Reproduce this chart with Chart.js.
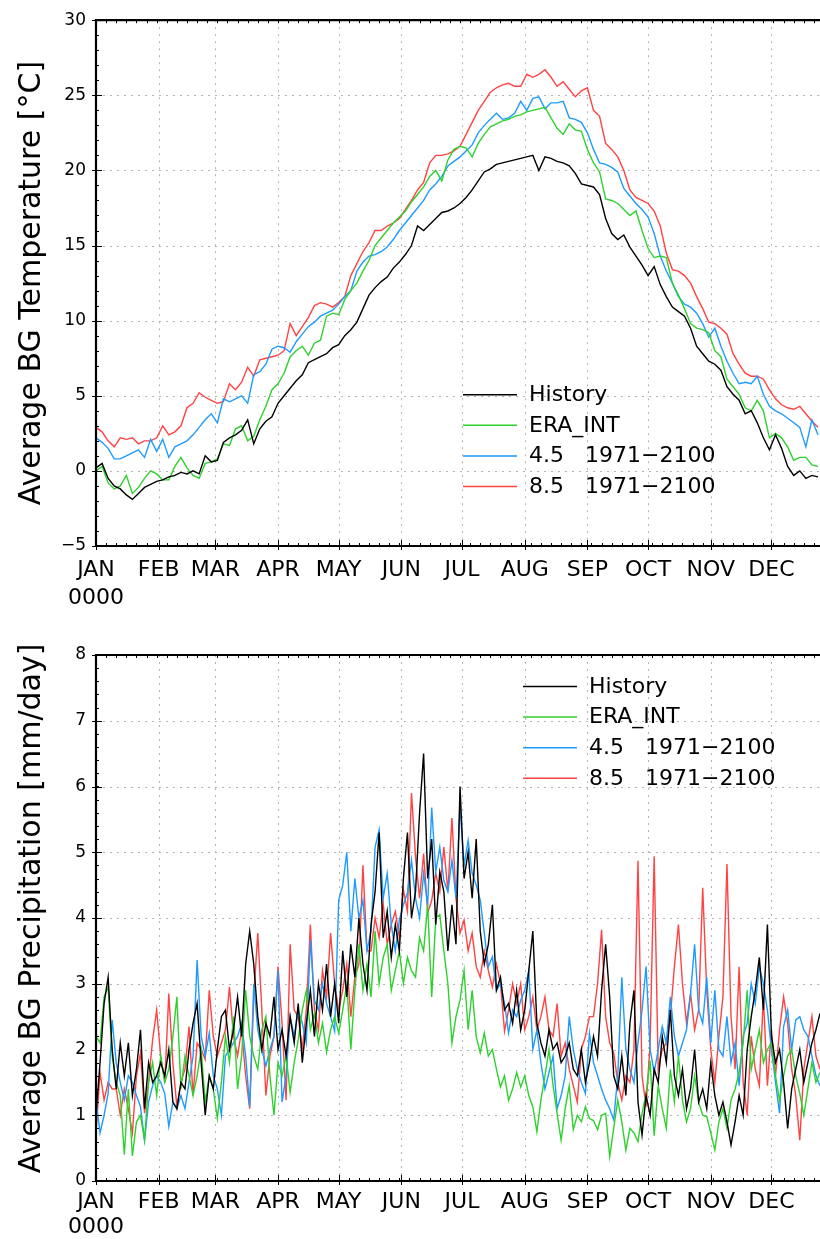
<!DOCTYPE html>
<html><head><meta charset="utf-8">
<script src="https://cdn.jsdelivr.net/npm/chart.js@4.4.1/dist/chart.umd.min.js"></script>
<style>
html,body{margin:0;padding:0;background:#fff;width:820px;height:1239px;overflow:hidden}
.c{position:absolute;left:0}
</style></head><body>
<div class="c" style="top:0"><canvas id="t" width="820" height="615"></canvas></div>
<div class="c" style="top:615px"><canvas id="p" width="820" height="624"></canvas></div>
<script>
// ---------- categories / ticks ----------
const monthLabels = ['JAN','FEB','MAR','APR','MAY','JUN','JUL','AUG','SEP','OCT','NOV','DEC'];
const monthStartDays = [0,31,59,90,120,151,181,212,243,273,304,334];
const yearLabel = '0000';
const seriesNames = ['History','ERA_INT','4.5   1971\u22122100','8.5   1971\u22122100'];
const seriesColors = ['#000000','#2ed12e','#1e9bff','#ff4343'];
const tempTicks = [-5,0,5,10,15,20,25,30];
const precTicks = [0,1,2,3,4,5,6,7,8];

// ---------- temperature (every 3rd day of year) ----------
const tempDays = [0,3,6,9,12,15,18,21,24,27,30,33,36,39,42,45,48,51,54,57,60,63,66,69,72,75,78,81,84,87,
90,93,96,99,102,105,108,111,114,117,120,123,126,129,132,135,138,141,144,147,150,153,156,159,162,165,168,171,174,177,
180,183,186,189,192,195,198,201,204,207,210,213,216,219,222,225,228,231,234,237,240,243,246,249,252,255,258,261,264,267,
270,273,276,279,282,285,288,291,294,297,300,303,306,309,312,315,318,321,324,327,330,333,336,339,342,345,348,351,354,357];
const tempHistory = [0.2,0.5,-0.5,-1.0,-1.2,-1.6,-1.9,-1.5,-1.1,-0.9,
-0.7,-0.6,-0.4,-0.3,-0.1,-0.2,0.0,-0.2,1.0,0.6,
0.7,1.9,2.2,2.4,2.7,3.4,1.8,2.8,3.3,3.6,
4.5,5.0,5.5,6.0,6.4,7.2,7.4,7.6,7.8,8.2,
8.4,9.0,9.4,9.9,10.8,11.7,12.2,12.6,12.9,13.5,
13.9,14.4,15.0,16.3,16.0,16.4,16.8,17.2,17.3,17.5,
17.8,18.2,18.7,19.3,19.9,20.1,20.4,20.5,20.6,20.7,
20.8,20.9,21.0,20.0,20.9,20.8,20.6,20.5,20.3,19.8,
19.1,19.0,18.9,18.4,16.8,15.8,15.4,15.7,14.9,14.3,
13.7,13.0,13.6,12.4,11.6,10.9,10.6,10.3,9.5,8.3,
7.8,7.3,7.1,6.7,5.6,5.1,4.7,3.8,4.0,3.2,
2.2,1.4,2.4,1.5,0.3,-0.3,0.0,-0.5,-0.3,-0.4];
const tempEra = [0.0,0.3,-0.8,-1.2,-1.0,-0.3,-1.5,-1.1,-0.5,0.0,
-0.2,-0.6,-0.6,0.3,0.9,0.2,-0.3,-0.5,0.5,0.6,
0.8,1.8,1.7,2.8,3.0,2.0,2.3,3.4,4.3,5.4,
5.8,6.5,7.6,8.0,8.3,7.7,8.5,8.7,10.3,10.5,
10.4,11.4,12.0,12.5,13.3,14.0,15.0,15.5,16.0,16.5,
16.9,17.3,17.9,18.4,18.9,19.6,20.0,19.3,20.7,21.4,
21.6,21.5,20.9,21.8,22.4,22.9,23.1,23.3,23.4,23.6,
23.7,23.9,24.0,24.1,24.2,23.5,22.8,22.4,23.1,22.7,
22.6,21.4,20.5,19.9,18.1,18.0,17.8,17.4,17.0,17.3,
16.0,14.8,14.2,14.3,14.2,12.5,11.7,10.8,9.8,9.5,
9.4,9.2,8.0,7.6,6.1,5.6,5.1,4.2,4.0,4.7,
4.0,2.2,2.5,2.2,1.6,0.7,0.9,0.9,0.4,0.3];
const temp45 = [2.2,1.9,1.5,0.8,0.8,1.0,1.2,1.4,0.9,2.1,
1.3,2.1,0.9,1.6,1.8,2.0,2.4,2.9,3.4,3.8,
3.2,4.8,4.6,4.8,5.0,4.5,6.4,6.6,7.1,8.1,
8.3,8.2,7.9,8.6,9.1,9.6,9.9,10.3,10.5,10.7,
11.1,11.6,12.0,13.3,13.9,14.3,14.4,14.6,14.9,15.4,
16.0,16.5,17.0,17.5,18.0,18.7,19.1,19.6,20.3,20.6,
20.9,21.3,21.7,22.5,23.0,23.4,23.8,23.4,23.5,23.8,
24.6,24.0,24.8,24.9,24.1,24.5,24.5,24.6,23.5,23.4,
23.2,22.5,21.4,20.5,20.4,20.2,19.9,18.8,18.3,17.8,
17.4,16.9,15.8,14.3,13.3,12.5,11.6,11.1,10.9,10.5,
9.8,8.9,9.5,8.3,7.3,6.5,5.8,5.9,5.8,6.3,
5.1,4.3,4.0,3.8,3.5,3.2,2.9,1.6,3.4,2.4];
const temp85 = [2.9,2.6,2.0,1.6,2.2,2.1,2.2,1.8,2.0,2.0,
2.2,3.0,2.4,2.6,3.0,4.2,4.5,5.2,4.9,4.7,
4.5,4.6,5.8,5.4,5.9,6.9,6.3,7.4,7.5,7.6,
7.7,8.0,9.8,9.0,9.6,10.2,11.0,11.2,11.1,10.9,
11.2,11.6,13.0,13.8,14.6,15.2,16.0,16.0,16.3,16.5,
16.8,17.4,18.0,18.7,19.2,20.5,21.0,21.0,21.1,21.3,
21.6,22.4,23.2,24.0,24.6,25.2,25.5,25.7,25.8,25.6,
25.6,26.4,26.2,26.4,26.7,26.2,25.6,25.9,25.4,24.9,
25.3,25.5,24.0,23.6,21.8,21.4,20.9,20.0,18.7,18.2,
18.0,17.8,17.3,16.3,14.5,13.4,13.3,13.0,12.5,11.6,
10.8,9.9,9.8,9.5,9.1,7.8,7.1,6.5,6.3,6.3,
6.1,5.4,4.8,4.4,4.2,4.1,4.3,3.8,3.3,2.9];

// ---------- precipitation (every 2nd day of year) ----------
const precDays = [0,2,4,6,8,10,12,14,16,18,20,22,24,26,28,30,32,34,36,38,40,42,44,46,48,50,52,54,56,58,
60,62,64,66,68,70,72,74,76,78,80,82,84,86,88,90,92,94,96,98,100,102,104,106,108,110,112,114,116,118,
120,122,124,126,128,130,132,134,136,138,140,142,144,146,148,150,152,154,156,158,160,162,164,166,168,170,172,174,176,178,
180,182,184,186,188,190,192,194,196,198,200,202,204,206,208,210,212,214,216,218,220,222,224,226,228,230,232,234,236,238,
240,242,244,246,248,250,252,254,256,258,260,262,264,266,268,270,272,274,276,278,280,282,284,286,288,290,292,294,296,298,
300,302,304,306,308,310,312,314,316,318,320,322,324,326,328,330,332,334,336,338,340,342,344,346,348,350,352,354,356,358];
const precHistory = [1.0,1.8,2.7,3.1,2.0,1.4,2.1,1.6,2.1,1.3,
1.7,2.3,1.1,1.8,1.5,1.6,1.8,1.6,2.0,1.2,
1.1,1.5,1.4,2.0,2.4,2.7,1.8,1.0,1.6,1.4,
2.0,2.5,2.6,2.0,2.3,2.8,2.2,3.3,3.8,3.3,
2.5,2.0,2.4,2.2,2.8,2.0,2.3,1.9,2.5,2.1,
2.7,1.8,2.4,2.9,2.2,3.0,2.6,3.3,2.5,3.0,
2.4,3.5,2.8,3.6,3.1,4.0,3.3,2.9,3.9,4.4,
5.3,3.7,4.1,3.4,3.9,3.5,4.6,5.3,4.0,4.4,
5.6,6.5,4.6,5.2,3.9,4.7,4.4,3.5,4.2,3.6,
6.0,4.6,5.0,4.3,5.2,3.8,3.3,3.6,4.2,2.9,
3.1,2.6,2.7,2.4,2.9,2.3,2.6,3.2,3.8,2.4,
2.1,1.9,2.3,2.0,2.1,1.8,1.9,2.1,1.7,1.6,
2.0,1.5,1.8,2.2,1.9,2.9,3.6,2.8,1.6,1.4,
1.9,1.3,2.4,2.9,1.2,0.7,1.3,1.0,1.7,1.5,
2.2,1.8,2.6,1.6,1.3,1.7,1.1,1.4,2.0,1.2,
1.4,1.1,1.8,1.3,1.0,1.2,0.9,0.55,0.9,1.3,
1.0,2.0,2.5,2.9,3.4,2.6,3.9,2.2,1.8,2.0,
1.5,0.8,1.4,1.7,2.0,1.5,1.8,2.1,2.3,2.55];
const precEra = [2.2,2.1,2.8,2.95,1.9,1.5,1.3,0.4,1.4,0.38,
0.9,1.0,0.62,1.5,1.8,1.3,1.9,1.5,1.7,2.2,
2.8,1.4,1.9,1.6,1.3,1.6,2.0,1.2,1.6,1.4,
0.95,1.5,2.2,1.8,2.5,1.4,1.9,2.9,2.2,1.9,
1.7,2.3,2.5,1.6,1.0,1.8,1.6,1.9,1.35,1.8,
2.15,2.6,2.9,2.3,2.55,2.1,2.4,1.96,2.3,2.5,
2.25,2.6,3.0,2.0,2.9,3.6,2.9,3.3,2.8,3.8,
3.0,3.4,3.6,2.9,3.2,3.5,3.0,3.4,3.2,3.1,
3.7,3.5,4.2,2.8,4.0,4.05,3.5,3.0,2.1,2.5,
2.75,3.2,2.3,2.9,2.2,1.95,2.25,1.9,2.0,1.7,
1.43,1.6,1.23,1.4,1.65,1.43,1.6,1.3,1.13,0.75,
1.23,1.6,2.0,1.45,1.03,0.62,1.1,1.45,0.78,1.0,
0.9,1.13,0.95,0.92,0.78,1.0,1.03,0.37,0.8,1.23,
0.9,0.47,0.8,0.73,0.6,1.03,1.33,1.83,0.69,1.45,
1.1,0.8,1.7,1.2,1.9,1.23,0.9,1.1,1.6,1.2,
1.0,0.98,0.73,0.47,0.9,1.1,0.8,1.23,1.4,1.65,
2.1,2.9,1.7,2.0,2.3,1.8,2.0,2.1,1.6,1.23,
1.6,1.9,2.0,1.6,1.33,1.0,1.4,1.8,1.5,1.65];
const prec45 = [1.23,0.73,1.0,1.33,2.45,1.8,1.5,1.23,1.6,1.5,
1.3,1.13,0.62,1.2,1.45,1.6,1.5,1.33,0.83,1.2,
1.1,1.3,1.1,1.5,1.9,3.36,2.2,1.9,2.25,1.6,
1.4,1.0,1.9,2.0,2.1,2.2,2.4,1.9,1.13,3.0,
2.3,2.0,1.75,2.0,2.2,3.2,1.2,1.6,2.5,2.2,
2.6,2.4,2.1,3.67,2.75,2.6,3.0,2.7,2.5,2.28,
4.27,4.5,5.0,3.8,4.6,4.0,4.27,3.5,3.8,5.08,
5.34,4.3,4.68,3.9,3.5,3.97,4.2,4.38,4.88,4.3,
4.0,4.68,4.2,5.68,4.7,5.08,4.57,4.4,4.88,4.3,
5.7,4.8,5.18,4.68,4.5,4.27,3.77,3.26,3.41,2.9,
3.0,2.7,2.25,2.6,2.5,2.75,2.9,3.2,2.0,2.3,
1.8,1.4,1.65,1.9,1.1,1.3,1.6,2.5,2.0,1.7,
1.5,1.33,2.25,1.8,1.6,1.4,1.23,1.1,0.93,1.6,
3.1,2.0,1.7,1.5,2.1,2.6,3.26,2.0,1.65,2.0,
2.35,2.1,2.8,2.2,1.9,2.1,2.3,2.85,3.6,2.6,
2.4,3.1,2.1,2.9,2.0,1.9,2.5,1.8,2.1,1.45,
2.2,2.4,3.0,2.7,3.26,3.0,2.6,2.0,1.5,1.03,
2.35,2.6,2.0,2.45,2.5,2.3,2.2,1.9,1.6,1.45];
const prec85 = [0.73,1.65,1.23,1.5,1.4,1.4,1.0,1.4,1.1,0.73,
1.6,1.95,1.03,1.5,2.15,2.6,1.9,1.5,2.85,1.8,
1.13,1.5,1.7,2.35,1.3,2.1,2.0,1.85,2.9,2.2,
1.9,2.1,2.3,2.95,2.2,1.9,2.3,1.6,1.1,2.8,
3.77,2.6,1.3,1.9,2.2,3.26,2.4,1.23,3.6,2.6,
2.5,2.0,2.6,3.9,2.6,2.3,3.2,2.8,3.77,3.0,
2.6,2.9,3.3,2.5,3.1,3.3,4.8,3.5,3.5,4.0,
3.7,4.22,3.6,3.9,4.1,3.7,4.43,4.1,5.9,4.93,
4.3,4.98,4.08,4.27,4.68,4.4,5.08,4.4,5.52,4.3,
3.77,3.97,3.5,3.77,3.26,3.1,3.5,3.2,2.95,3.3,
3.0,2.28,2.6,3.0,2.7,3.0,2.3,2.5,2.8,2.3,
2.5,2.8,2.3,2.2,2.7,1.9,2.1,1.7,1.45,1.2,
2.0,2.2,2.5,2.5,3.0,3.82,2.5,2.1,1.95,1.5,
1.23,1.6,1.5,2.0,4.87,1.6,1.13,2.1,4.94,1.7,
2.0,2.1,2.5,3.26,3.9,3.0,2.4,2.85,2.3,2.6,
4.46,2.9,2.0,1.5,2.2,2.8,4.82,2.5,1.7,3.26,
1.5,1.0,2.2,1.7,1.45,2.8,1.45,2.3,1.6,2.3,
2.8,2.4,1.7,1.3,0.62,1.7,2.1,2.5,1.9,1.7];

// ---------- drawing ----------
Chart.defaults.font.family = "'DejaVu Sans', sans-serif";
Chart.defaults.color = '#000';
Chart.defaults.animation = false;

function pts(days, vals){ return days.map((d,i)=>({x:d, y:vals[i]})); }

const framePlugin = {
  id: 'gradsFrame',
  beforeDatasetsDraw(chart, args, o){
    const {ctx, chartArea:a, scales:{x, y}} = chart;
    ctx.save();
    ctx.strokeStyle = '#b4b4b4'; ctx.lineWidth = 1; ctx.setLineDash([2,5]);
    ctx.beginPath();
    monthStartDays.forEach(d => {
      if (d <= x.min) return;
      const px = Math.round(x.getPixelForValue(d)) + 0.5;
      ctx.moveTo(px, a.top); ctx.lineTo(px, a.bottom);
    });
    o.yTicks.forEach(v => {
      if (v <= y.min || v >= y.max) return;
      const py = Math.round(y.getPixelForValue(v)) + 0.5;
      ctx.moveTo(a.left, py); ctx.lineTo(a.right, py);
    });
    ctx.stroke();
    ctx.restore();
  },
  afterDatasetsDraw(chart, args, o){
    const {ctx, chartArea:a, scales:{x, y}} = chart;
    ctx.save();
    ctx.strokeStyle = '#000'; ctx.setLineDash([]);
    ctx.lineWidth = 2.2;
    ctx.beginPath();
    ctx.moveTo(a.right + 20, a.top); ctx.lineTo(a.left, a.top);
    ctx.lineTo(a.left, a.bottom); ctx.lineTo(a.right + 20, a.bottom);
    ctx.stroke();
    ctx.lineWidth = 1;
    ctx.beginPath();
    for (let d = 5; d < x.max; d += 5) {
      const px = Math.round(x.getPixelForValue(d)) + 0.5;
      ctx.moveTo(px, a.bottom); ctx.lineTo(px, a.bottom - 3);
      ctx.moveTo(px, a.top); ctx.lineTo(px, a.top + 3);
    }
    monthStartDays.forEach(d => {
      const px = Math.round(x.getPixelForValue(d)) + 0.5;
      ctx.moveTo(px, a.bottom + 4); ctx.lineTo(px, a.bottom - 6);
    });
    for (let v = y.min; v <= y.max; v += o.yMinor) {
      const py = Math.round(y.getPixelForValue(v)) + 0.5;
      ctx.moveTo(a.left, py); ctx.lineTo(a.left + 3, py);
    }
    o.yTicks.forEach(v => {
      const py = Math.round(y.getPixelForValue(v)) + 0.5;
      ctx.moveTo(a.left - 4, py); ctx.lineTo(a.left + 6, py);
    });
    ctx.stroke();
    ctx.restore();
  },
  afterDraw(chart, args, o){
    const {ctx, chartArea:a} = chart;
    ctx.save();
    ctx.font = "22px 'DejaVu Sans'";
    ctx.textBaseline = 'middle';
    ctx.fillStyle = '#000';
    chart.data.datasets.forEach((ds, i) => {
      const yy = a.top + o.legendTop + i * o.legendGap;
      ctx.strokeStyle = ds.borderColor; ctx.lineWidth = 1.5;
      ctx.beginPath();
      ctx.moveTo(a.left + o.legendLeft, yy + 0.5);
      ctx.lineTo(a.left + o.legendLeft + 54, yy + 0.5);
      ctx.stroke();
      ctx.fillText(ds.label, a.left + o.legendLeft + 66, yy + 1);
    });
    ctx.restore();
  }
};

function makeChart(id, days, series, yMin, yMax, yTicks, yMinor, title, xAxisH, topPad, legend, jLine){
  return new Chart(document.getElementById(id), {
    type: 'line',
    data: {
      datasets: series.map((vals, i) => ({
        label: seriesNames[i],
        data: pts(days, vals),
        borderColor: seriesColors[i],
        borderWidth: 1.4,
        pointRadius: 0,
        tension: 0,
        fill: false
      }))
    },
    options: {
      responsive: false,
      devicePixelRatio: 1,
      animation: false,
      events: [],
      layout: { padding: { left: 0, right: 0, top: topPad, bottom: 0 } },
      plugins: {
        legend: { display: false },
        tooltip: { enabled: false },
        gradsFrame: Object.assign({ yTicks: yTicks, yMinor: yMinor }, legend)
      },
      scales: {
        x: {
          type: 'linear', min: 0, max: 358,
          grid: { display: false, drawTicks: false },
          border: { display: false },
          afterBuildTicks: s => { s.ticks = monthStartDays.map(v => ({ value: v })); },
          afterFit: s => { s.height = xAxisH; },
          ticks: {
            autoSkip: false, maxRotation: 0, padding: jLine.pad,
            font: { size: 22, lineHeight: jLine.lh },
            callback: v => {
              const i = monthStartDays.indexOf(v);
              return i === 0 ? [monthLabels[0], yearLabel] : monthLabels[i];
            }
          }
        },
        y: {
          type: 'linear', min: yMin, max: yMax,
          grid: { display: false, drawTicks: false },
          border: { display: false },
          afterBuildTicks: s => { s.ticks = yTicks.map(v => ({ value: v })); },
          afterFit: s => { s.width = 96; },
          ticks: {
            padding: 10, font: { size: 17 },
            callback: v => (v < 0 ? '\u2212' + Math.abs(v) : String(v))
          },
          title: {
            display: true, text: title,
            font: { size: 30, lineHeight: 1.2 },
            padding: { top: 14, bottom: 0 }
          }
        }
      }
    },
    plugins: [framePlugin]
  });
}

makeChart('t', tempDays, [tempHistory, tempEra, temp45, temp85], -5, 30, tempTicks, 1,
  'Average BG Temperature [\u00B0C]', 69, 20,
  { legendLeft: 367, legendTop: 374, legendGap: 30.6 }, { pad: 10, lh: 1.27 });

makeChart('p', precDays, [precHistory, precEra, prec45, prec85], 0, 8, precTicks, 0.2,
  '  Average BG Precipitation [mm/day]', 58, 40,
  { legendLeft: 427, legendTop: 31, legendGap: 30.6 }, { pad: 9, lh: 1.14 });
</script>
</body></html>
